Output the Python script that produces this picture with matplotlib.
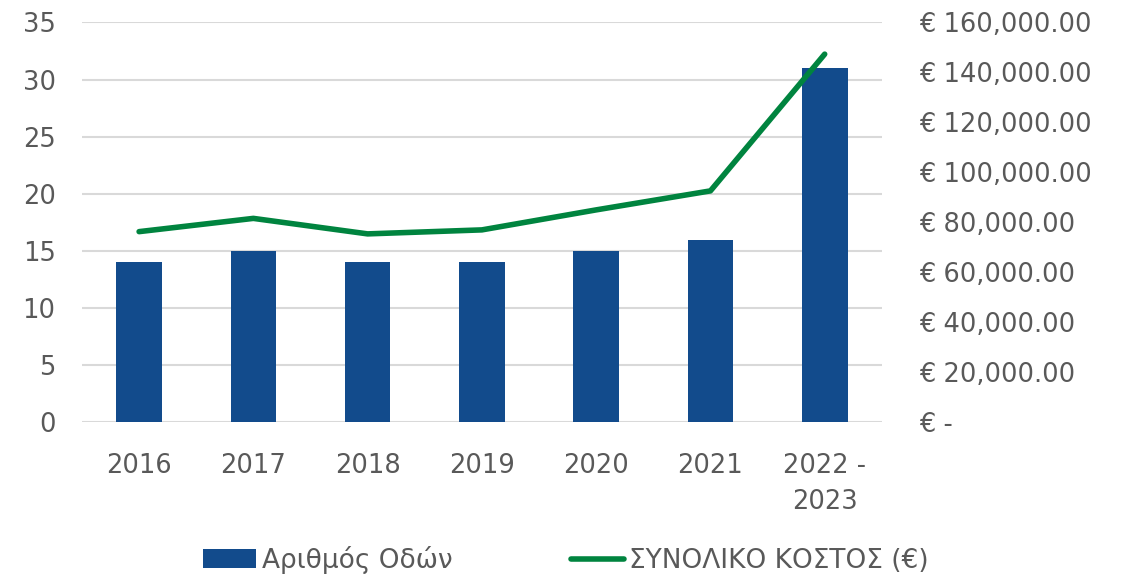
import matplotlib.pyplot as plt
import numpy as np

# dedomena
years = ['2016', '2017', '2018', '2019', '2020', '2021', '2022 -\n2023']
odoi = [14, 15, 14, 14, 15, 16, 31]
kostos = [76300, 81600, 75400, 77000, 85000, 92600, 147300]

plt.rcParams['font.family'] = ['DejaVu Sans']
txt = '#595959'

fig = plt.figure(figsize=(11.32, 5.83), dpi=100)
ax = fig.add_axes([0.0724, 0.2755, 0.7066, 0.6861])
ax2 = ax.twinx()

x = np.arange(len(years))
ax.bar(x, odoi, width=0.4, color='#124B8C', label='Αριθμός Οδών', zorder=3)
ax2.plot(x, kostos, color='#00843F', linewidth=4, solid_capstyle='round',
         label='ΣΥΝΟΛΙΚΟ ΚΟΣΤΟΣ (€)', zorder=4)

ax.set_xlim(-0.5, len(years) - 0.5)
ax.set_ylim(0, 35)
ax.set_yticks(range(0, 36, 5))
ax2.set_ylim(0, 160000)
ax2.set_yticks(range(0, 160001, 20000))
ax2.set_yticklabels(['€ -'] + [f'€ {v:,.2f}' for v in range(20000, 160001, 20000)])
ax.set_xticks(x)
ax.set_xticklabels(years, linespacing=1.5)

ax.grid(axis='y', color='#d9d9d9', linewidth=1.5, zorder=0)
for a in (ax, ax2):
    for s in a.spines.values():
        s.set_visible(False)
    a.tick_params(length=0, labelsize=18.5, labelcolor=txt)
ax.tick_params(axis='y', pad=19)
ax2.tick_params(axis='y', pad=27)
ax.tick_params(axis='x', pad=22)
ax.set_zorder(ax2.get_zorder() - 1)
ax2.patch.set_visible(False)

h1, l1 = ax.get_legend_handles_labels()
h2, l2 = ax2.get_legend_handles_labels()
fig.legend(h1 + h2, l1 + l2, loc='lower center', bbox_to_anchor=(0.5, -0.025),
           ncol=2, frameon=False, fontsize=19, labelcolor=txt,
           handlelength=2.0, handletextpad=0.2, columnspacing=4.5)

fig.savefig('out.png', dpi=100)
